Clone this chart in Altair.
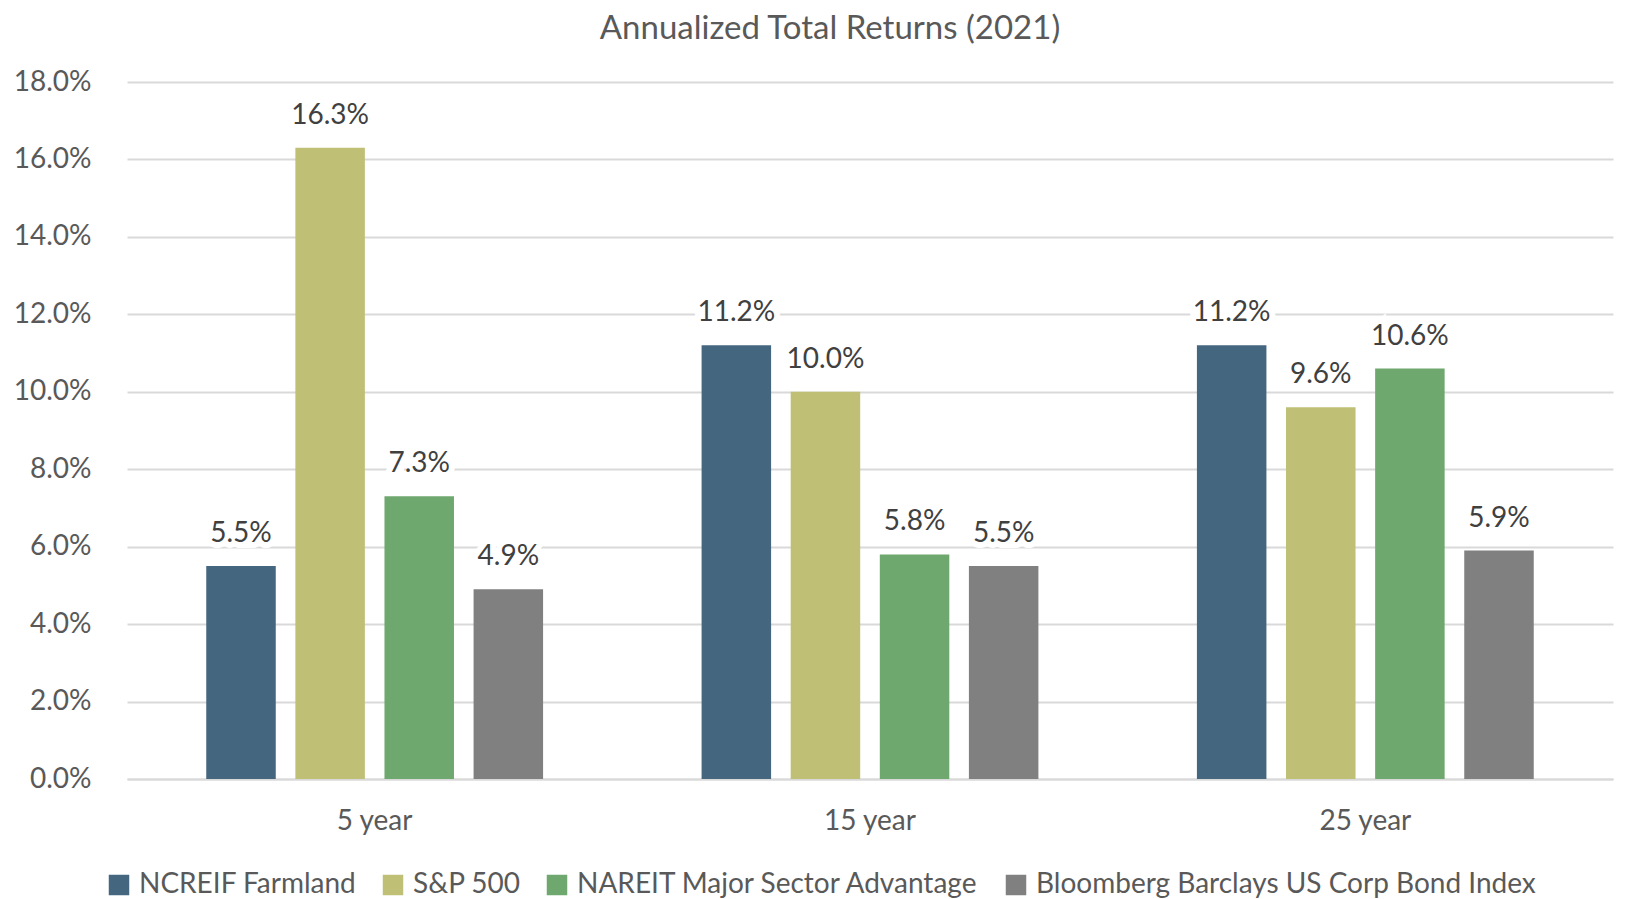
import altair as alt
import pandas as pd

periods = ["5 year", "15 year", "25 year"]
series = ["NCREIF Farmland", "S&P 500", "NAREIT Major Sector Advantage", "Bloomberg Barclays US Corp Bond Index"]
colors = ["#44667F", "#BFC076", "#6FA86F", "#808080"]
ncreif = [5.5, 11.2, 11.2]
sp500 = [16.3, 10.0, 9.6]
nareit = [7.3, 5.8, 10.6]
bloomberg = [4.9, 5.5, 5.9]

rows = []
for s, vals in zip(series, [ncreif, sp500, nareit, bloomberg]):
    for p, v in zip(periods, vals):
        rows.append({"period": p, "series": s, "value": v, "label": f"{v:.1f}%"})
df = pd.DataFrame(rows)

FONT = "Lato"
TXT = "#595959"
FS = 28

x = alt.X("period:N", sort=periods, title=None,
          scale=alt.Scale(paddingInner=0.32, paddingOuter=0.16),
          axis=alt.Axis(labelAngle=0, labelFontSize=FS, labelFont=FONT, labelColor=TXT,
                        labelPadding=28, ticks=False, domain=True, domainColor="#d9d9d9",
                        domainWidth=2))
xo = alt.XOffset("series:N", sort=series, scale=alt.Scale(paddingInner=0.22, paddingOuter=0))
y = alt.Y("value:Q", title=None,
          scale=alt.Scale(domain=[0, 18]),
          axis=alt.Axis(values=list(range(0, 19, 2)), labelExpr="format(datum.value, '.1f') + '%'",
                        labelFontSize=FS, labelFont=FONT, labelColor=TXT, labelPadding=36,
                        ticks=False, domain=False, gridColor="#d9d9d9", gridWidth=2))

base = alt.Chart(df).encode(x=x, xOffset=xo)

bars = base.mark_bar().encode(
    y=y,
    color=alt.Color("series:N", sort=series, scale=alt.Scale(domain=series, range=colors),
                    legend=alt.Legend(title=None, orient="none", legendX=-22, legendY=789,
                                      direction="horizontal",
                                      symbolType="square", symbolSize=420, labelFontSize=FS,
                                      labelFont=FONT, labelColor=TXT, columnPadding=22,
                                      symbolStrokeWidth=0, labelLimit=700,
                                      labelOffset=6)),
)

halo = base.mark_text(dy=-18, baseline="bottom", fontSize=FS, font=FONT, color="white",
                      stroke="white", strokeWidth=12).encode(y=alt.Y("value:Q"), text="label:N")
labels = base.mark_text(dy=-18, baseline="bottom", fontSize=FS, font=FONT, color="#404040").encode(
    y=alt.Y("value:Q"), text="label:N"
)

chart = (bars + halo + labels).properties(
    width=1486, height=697,
    title=alt.TitleParams("Annualized Total Returns (2021)", fontSize=33, font=FONT,
                          color=TXT, fontWeight="normal", offset=22, dx=-40),
).configure_view(stroke=None)

chart.save("out.html", embed_options={"renderer": "svg", "actions": False})
